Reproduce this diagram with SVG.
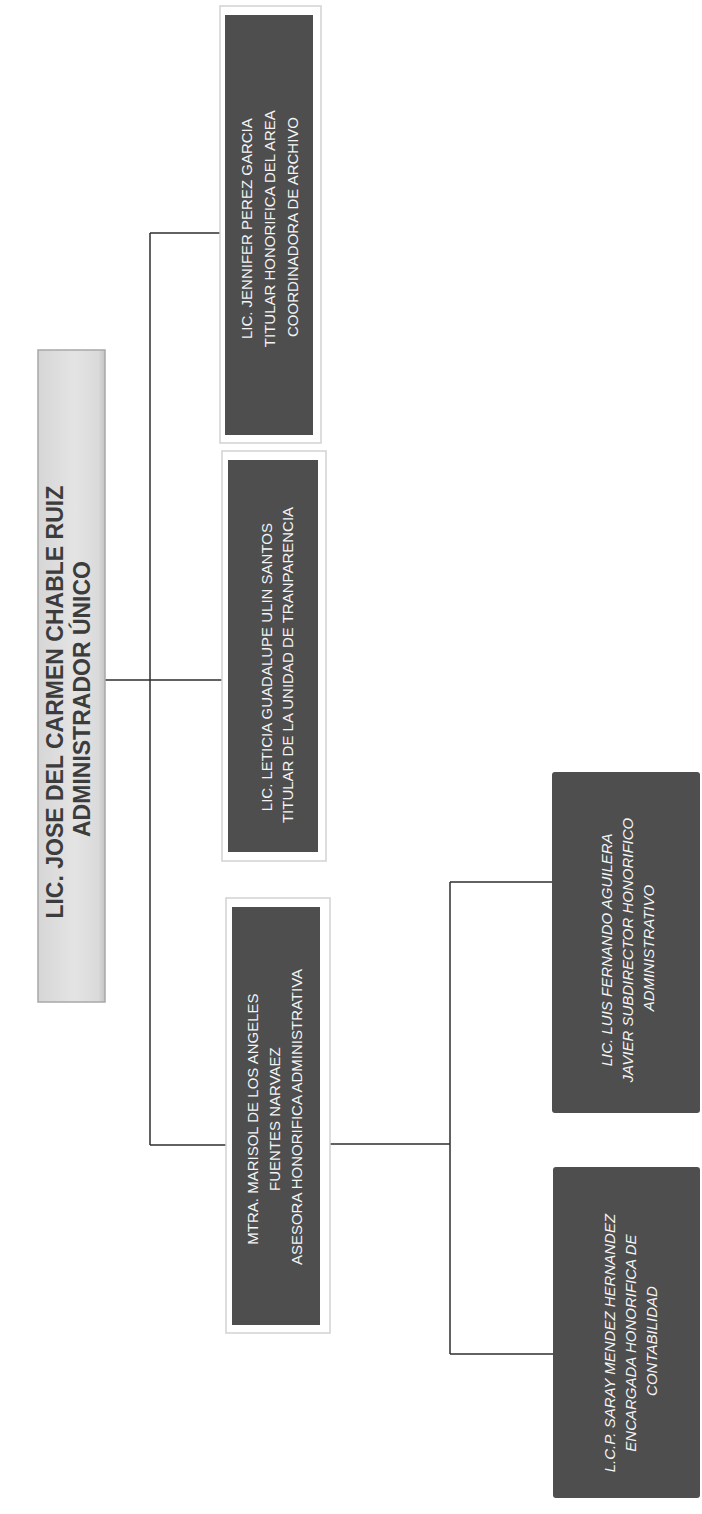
<svg xmlns="http://www.w3.org/2000/svg" width="702" height="1514" viewBox="0 0 702 1514">
  <defs>
    <linearGradient id="rootGrad" x1="0" y1="0" x2="1" y2="0">
      <stop offset="0" stop-color="#d6d6d6"/>
      <stop offset="0.55" stop-color="#e4e4e4"/>
      <stop offset="0.9" stop-color="#dadada"/>
      <stop offset="1" stop-color="#c4c4c4"/>
    </linearGradient>
  </defs>
  <style>
    .frame { fill: #ffffff; stroke: #d2d2d2; stroke-width: 1.5; }
    .dark { fill: #4e4e4e; }
    .txt { font-family: "Liberation Sans", Arial, sans-serif; font-size: 15px; fill: #f4f4f4; text-anchor: middle; }
    .it { font-style: italic; }
    .root { font-family: "Liberation Sans", Arial, sans-serif; font-size: 23px; font-weight: bold; fill: #3c3c3c; text-anchor: middle; }
    .conn { fill: none; stroke: #2e2e2e; stroke-width: 1.5; }
  </style>
  <rect width="702" height="1514" fill="#ffffff"/>

  <g id="connectors">
    <path class="conn" d="M105,680 H227"/>
    <path class="conn" d="M150,233 V1145"/>
    <path class="conn" d="M150,233 H225"/>
    <path class="conn" d="M150,1145 H231"/>
    <path class="conn" d="M327,1144 H450"/>
    <path class="conn" d="M450,882 V1354"/>
    <path class="conn" d="M450,882 H552"/>
    <path class="conn" d="M450,1354 H553"/>
  </g>

  <g id="root">
    <rect x="38" y="350" width="67" height="652" fill="url(#rootGrad)" stroke="#a8a8a8" stroke-width="1.5"/>
    <text class="root" transform="translate(0,699) rotate(-90)">
      <tspan x="0" y="63">LIC. JOSE DEL CARMEN CHABLE RUIZ</tspan>
      <tspan x="0" y="90">ADMINISTRADOR ÚNICO</tspan>
    </text>
  </g>

  <g id="node-jennifer">
    <rect class="frame" x="220" y="6" width="101" height="437"/>
    <rect class="dark" x="225" y="15" width="88" height="420"/>
    <text class="txt" transform="translate(0,227) rotate(-90)">
      <tspan x="0" y="252">LIC. JENNIFER PEREZ GARCIA</tspan>
      <tspan x="0" y="275">TITULAR HONORIFICA DEL AREA</tspan>
      <tspan x="0" y="298">COORDINADORA DE ARCHIVO</tspan>
    </text>
  </g>

  <g id="node-leticia">
    <rect class="frame" x="222" y="451" width="104" height="410"/>
    <rect class="dark" x="228" y="460" width="90" height="392"/>
    <text class="txt" transform="translate(0,665) rotate(-90)">
      <tspan x="0" y="272">LIC. LETICIA GUADALUPE ULIN SANTOS</tspan>
      <tspan x="0" y="293">TITULAR DE LA UNIDAD DE TRANPARENCIA</tspan>
    </text>
  </g>

  <g id="node-marisol">
    <rect class="frame" x="226" y="898" width="104" height="435"/>
    <rect class="dark" x="232" y="907" width="88" height="418"/>
    <text class="txt" transform="translate(0,1117) rotate(-90)">
      <tspan x="0" y="258">MTRA. MARISOL DE LOS ANGELES</tspan>
      <tspan x="0" y="280">FUENTES NARVAEZ</tspan>
      <tspan x="0" y="302">ASESORA HONORIFICA ADMINISTRATIVA</tspan>
    </text>
  </g>

  <g id="node-luis">
    <rect class="dark" x="552" y="772" width="148" height="341" rx="3"/>
    <text class="txt it" transform="translate(0,948) rotate(-90)">
      <tspan x="0" y="612">LIC. LUIS FERNANDO AGUILERA</tspan>
      <tspan x="0" y="633">JAVIER SUBDIRECTOR HONORIFICO</tspan>
      <tspan x="0" y="654">ADMINISTRATIVO</tspan>
    </text>
  </g>

  <g id="node-saray">
    <rect class="dark" x="553" y="1167" width="147" height="331" rx="3"/>
    <text class="txt it" transform="translate(0,1341) rotate(-90)">
      <tspan x="0" y="615">L.C.P. SARAY MENDEZ HERNANDEZ</tspan>
      <tspan x="0" y="636">ENCARGADA HONORIFICA DE</tspan>
      <tspan x="0" y="657">CONTABILIDAD</tspan>
    </text>
  </g>
</svg>
